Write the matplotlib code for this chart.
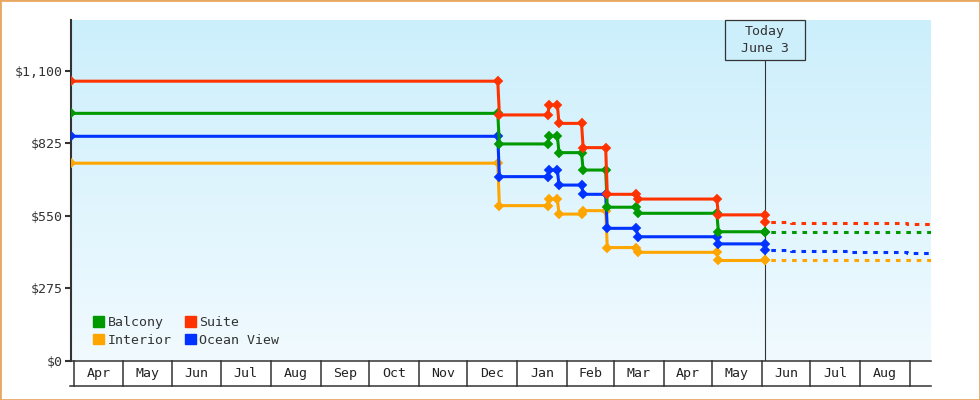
import numpy as np
import matplotlib
matplotlib.use('Agg')
import matplotlib.pyplot as plt
import matplotlib.dates as mdates
import matplotlib.transforms as mtransforms
from matplotlib.patches import Rectangle, Patch

# price periods (all cabin types change on the same days)
period_start = ['2023-03-30', '2023-12-21', '2024-01-21', '2024-01-27',
                '2024-02-11', '2024-02-26', '2024-03-16', '2024-05-05']
period_end = ['2023-12-20', '2024-01-20', '2024-01-26', '2024-02-10',
              '2024-02-25', '2024-03-15', '2024-05-04', '2024-06-03']

suite = [1060, 932, 970, 900, 808, 631, 613, 553]
balcony = [938, 822, 852, 789, 723, 582, 559, 489]
ocean_view = [851, 698, 723, 666, 631, 502, 470, 443]
interior = [749, 588, 613, 556, 569, 429, 411, 380]

# forecast after today
forecast_dates = ['2024-06-03', '2024-06-19', '2024-07-25', '2024-08-30']
suite_fc = [527, 524, 521, 517]
balcony_fc = [489, 489, 489, 489]
ocean_view_fc = [418, 415, 411, 407]
interior_fc = [380, 380, 380, 380]

today = '2024-06-03'
x_start, x_end = '2023-03-30', '2024-09-14'
month_starts = ['2023-04-01', '2023-05-01', '2023-06-01', '2023-07-01', '2023-08-01',
                '2023-09-01', '2023-10-01', '2023-11-01', '2023-12-01', '2024-01-01',
                '2024-02-01', '2024-03-01', '2024-04-01', '2024-05-01', '2024-06-01',
                '2024-07-01', '2024-08-01', '2024-09-01']
month_labels = ['Apr', 'May', 'Jun', 'Jul', 'Aug', 'Sep', 'Oct', 'Nov', 'Dec',
                'Jan', 'Feb', 'Mar', 'Apr', 'May', 'Jun', 'Jul', 'Aug']
y_ticks = [0, 275, 550, 825, 1100]
Y_MAX = 1292

FONT = 'DejaVu Sans Mono'
INK = '#333333'
W, H = 980, 400


def d(s):
    return mdates.datestr2num(s)


def series_xy(prices, today_price):
    xs, ys = [], []
    for s, e, p in zip(period_start, period_end, prices):
        xs += [d(s), d(e)]
        ys += [p, p]
    xs.append(d(period_end[-1]))
    ys.append(today_price)
    return xs, ys


def main():
    fig = plt.figure(figsize=(W / 100, H / 100), dpi=100)
    ax = fig.add_axes([71 / W, 39.3 / H, 860 / W, 340.7 / H])

    x0, x1 = d(x_start), d(x_end)

    # background gradient
    top = np.array([204, 239, 252]) / 255
    bot = np.array([241, 250, 255]) / 255
    t = np.linspace(0, 1, 256)[:, None]
    grad = top * (1 - t) + bot * t
    ax.imshow(grad[:, None, :], extent=[x0, x1, 0, Y_MAX], aspect='auto', zorder=0)

    series = [
        ('Interior', interior, interior_fc, '#ffa500'),
        ('Ocean View', ocean_view, ocean_view_fc, '#0033ff'),
        ('Balcony', balcony, balcony_fc, '#009900'),
        ('Suite', suite, suite_fc, '#ff3300'),
    ]
    lw = 2.2
    for i, (name, prices, fc, color) in enumerate(series):
        xs, ys = series_xy(prices, fc[0])
        ax.plot(xs, ys, color=color, lw=lw, marker='D', ms=4.4, mew=1.3,
                mec=color, mfc=color, zorder=3 + i)
        fx = [d(s) for s in forecast_dates] + [x1]
        fy = list(fc) + [fc[-1]]
        ax.plot(fx, fy, color=color, lw=lw, drawstyle='steps-post',
                linestyle=(1.5, (1.5, 1.9)), dash_capstyle='butt', zorder=3 + i)

    ax.set_xlim(x0, x1)
    ax.set_ylim(0, Y_MAX)

    for side in ['top', 'right']:
        ax.spines[side].set_visible(False)
    ax.spines['left'].set_color(INK)
    ax.spines['left'].set_linewidth(1.5)
    ax.spines['bottom'].set_color(INK)
    ax.spines['bottom'].set_linewidth(1.1)

    ax.set_yticks(y_ticks)
    ax.set_yticklabels(['${:,}'.format(v) for v in y_ticks])
    ax.tick_params(axis='y', direction='out', length=4, width=1.5, color=INK,
                   labelsize=9.5, labelcolor=INK, pad=2)
    for lab in ax.get_yticklabels():
        lab.set_family(FONT)
    ax.set_xticks([])

    # month cells under the axis
    trans = mtransforms.blended_transform_factory(ax.transData, ax.transAxes)
    cell_h = 25 / 340.7
    for m in month_starts:
        ax.plot([d(m), d(m)], [0, -cell_h], color=INK, lw=1.1, transform=trans,
                clip_on=False)
    ax.plot([x0 - 0.6, x1], [-cell_h, -cell_h], color=INK, lw=1.1, transform=trans,
            clip_on=False)
    for i, lab in enumerate(month_labels):
        mid = (d(month_starts[i]) + d(month_starts[i + 1])) / 2
        ax.text(mid, -cell_h / 2, lab, transform=trans, ha='center', va='center',
                fontsize=9.5, family=FONT, color='#222222')

    # today marker
    tx = d(today)
    frac = (tx - x0) / (x1 - x0)
    box_w, box_h = 80 / 860, 40 / 340.7
    ax.axvline(tx, ymin=0, ymax=1 - box_h, color=INK, lw=0.8, zorder=2)
    ax.add_patch(Rectangle((frac - box_w / 2, 1 - box_h), box_w, box_h,
                           transform=ax.transAxes, facecolor='#cdeffc',
                           edgecolor=INK, lw=0.9, zorder=10, clip_on=False))
    ax.text(frac, 1 - box_h / 2, 'Today\nJune 3', transform=ax.transAxes,
            ha='center', va='center', fontsize=9.5, family=FONT, color=INK,
            linespacing=1.35, zorder=11)

    # legend
    handles = [Patch(color=c) for _, _, _, c in series]
    names = [n for n, _, _, _ in series]
    order = [2, 0, 3, 1]
    leg = ax.legend([handles[i] for i in order], [names[i] for i in order], ncol=2,
                    loc='lower left', bbox_to_anchor=(22 / 860, 14 / 340.7),
                    frameon=False, handlelength=0.85, handleheight=0.85,
                    handletextpad=0.25, columnspacing=1.0, labelspacing=0.35,
                    borderpad=0, borderaxespad=0,
                    prop={'family': FONT, 'size': 9.5})
    for txt in leg.get_texts():
        txt.set_color(INK)

    # outer border
    fig.patches.append(Rectangle((0, 0), 1, 1, transform=fig.transFigure, fill=False,
                                 edgecolor='#e8a862', lw=2.0))

    fig.savefig('out.png', dpi=100)


if __name__ == "__main__":
    main()
